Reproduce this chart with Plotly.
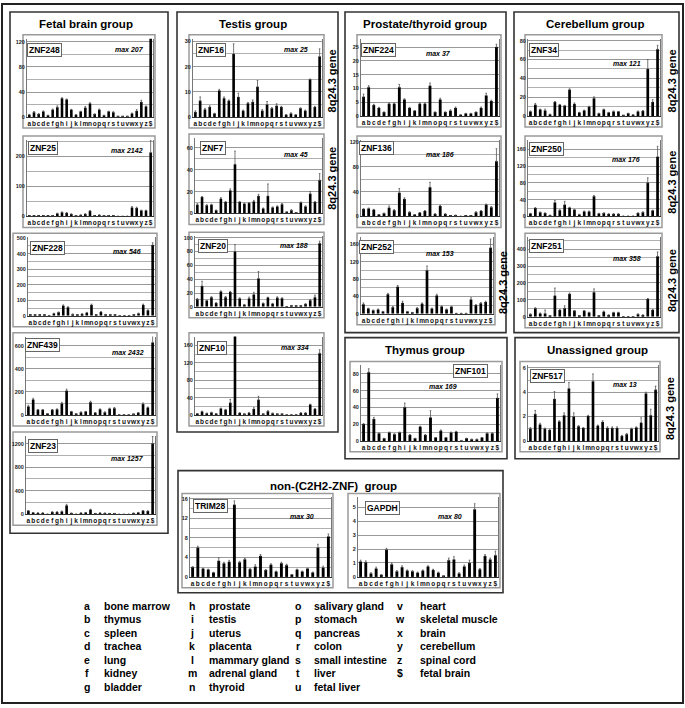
import plotly.graph_objects as go

W, H = 685, 708
categories = list("abcdefghijklmnopqrstuvwxyz") + ["$"]

# ---------------- data ----------------
znf248 = [4, 8, 5, 9, 3, 12, 16, 30, 28, 12, 4, 9, 15, 22, 5, 12, 3, 9, 8, 1, 1, 1, 6, 10, 24, 17, 130]
znf248_err = [0.5, 1, 0.5, 1, 0, 1, 2, 1, 1, 0.5, 0, 0.5, 2, 1, 0, 1, 0, 0.5, 0.5, 0, 0, 0, 0.5, 2, 3, 1, 5]
znf25 = [2, 2, 2, 2, 2, 3, 10, 14, 12, 8, 3, 5, 8, 18, 2, 5, 3, 3, 3, 1, 1, 1, 30, 28, 20, 20, 213]
znf25_err = [0, 0, 0, 0, 0, 0, 1, 1, 1, 0.5, 0, 0.5, 1, 2, 0, 0.5, 0, 0, 0, 0, 0, 0, 3, 3, 1, 1, 40]
znf228 = [3, 4, 4, 4, 2, 15, 22, 65, 55, 10, 5, 12, 20, 70, 5, 25, 8, 5, 5, 1, 1, 1, 5, 15, 70, 35, 455]
znf228_err = [0, 0, 0, 0, 0, 1, 2, 5, 3, 1, 0, 1, 2, 5, 0, 2, 1, 0, 0, 0, 0, 0, 1, 2, 5, 3, 15]
znf439 = [75, 135, 45, 45, 12, 45, 50, 100, 210, 30, 10, 25, 30, 110, 20, 50, 25, 55, 60, 3, 3, 3, 5, 20, 95, 65, 630]
znf439_err = [10, 10, 3, 3, 0, 3, 3, 10, 15, 2, 0, 2, 2, 10, 1, 3, 2, 5, 5, 0, 0, 0, 0, 2, 10, 5, 60]
znf23 = [60, 30, 25, 25, 5, 40, 40, 50, 150, 20, 5, 25, 30, 80, 15, 25, 20, 15, 15, 3, 3, 3, 20, 30, 60, 55, 1200]
znf23_err = [5, 2, 2, 2, 0, 3, 3, 5, 20, 2, 0, 2, 3, 8, 1, 2, 2, 1, 1, 0, 0, 0, 2, 3, 5, 5, 120]

znf16 = [2, 6.5, 3, 4, 1.5, 10.5, 7.5, 6.5, 25, 8, 2.5, 5.5, 6, 12, 2.5, 5, 3.5, 4.5, 4, 1, 1.5, 1, 3.5, 2.5, 15, 4, 24]
znf16_err = [0.5, 1.5, 0.5, 0.5, 0, 0.5, 0.5, 0.3, 4, 1.5, 0.3, 0.3, 0.8, 2.5, 0.5, 1.2, 0.3, 0.8, 0.3, 0, 0.2, 0, 0.2, 0.3, 0, 0.3, 3]
znf7 = [8, 15, 7.5, 8, 3, 13.5, 10.5, 21, 45, 10.5, 9, 9.5, 11, 16, 4.5, 16, 5.5, 6.5, 8.5, 1.5, 3, 0.8, 10, 6.5, 18, 10.5, 30.5]
znf7_err = [1, 0.5, 0.5, 0.5, 0, 1, 0.5, 1.5, 12, 0.5, 0.5, 0.5, 1, 1.5, 0.5, 11, 0.5, 0.5, 0.5, 0, 0.5, 0, 0.5, 0.5, 2, 0.5, 6]
znf20 = [11, 30, 9, 14, 5.5, 22, 14, 21.5, 80, 12, 3, 12, 18, 41, 5, 13.5, 4.5, 13, 12.5, 0.5, 2, 1.5, 1.5, 4, 9.5, 14, 92]
znf20_err = [1, 7, 0.5, 0.5, 0.5, 1, 1, 1, 10, 1, 0.5, 2, 3, 10, 0.5, 0.5, 0.5, 1.5, 0.5, 0, 0, 0, 0, 0.5, 1, 3, 3]
znf10 = [3, 8, 4, 6, 3, 15, 12, 28, 190, 5, 2, 5, 14, 35, 2, 9, 4, 2, 2, 0.5, 0.5, 1, 5, 5, 24, 14, 142]
znf10_err = [0.5, 1, 0.5, 0.5, 0, 1, 1, 8, 10, 0.5, 0, 1, 3, 8, 0, 1, 0.5, 0, 0, 0, 0, 0, 0.5, 0.5, 1, 1, 8]

znf224 = [7, 10.5, 4, 3, 1.5, 4.5, 4.5, 10.5, 6, 3, 2, 4.5, 4.5, 11, 1.5, 6, 1.5, 2, 3, 0.5, 1, 1, 1.5, 3, 7.5, 5.5, 25]
znf224_err = [1, 0.5, 0.3, 0.2, 0, 0.3, 0.3, 1, 0.3, 0.2, 0, 0.3, 0.3, 1, 0, 0.5, 0, 0.3, 0.3, 0, 0, 0, 0, 0.3, 0.8, 0.3, 1]
znf136 = [12, 13, 11, 3, 5, 14, 10, 38, 28, 7, 3, 6, 9, 47, 4, 17, 4, 1, 2, 0.5, 1, 1, 7, 9, 19, 15, 89]
znf136_err = [0.5, 0.5, 0.5, 0, 0.5, 3, 1, 7, 2, 0.5, 0, 0.5, 0.5, 8, 0.5, 1, 0.5, 0, 0, 0, 0, 0, 0.5, 0.5, 1, 1, 20]
znf252 = [22, 12, 8, 10, 5, 45, 15, 62, 25, 5, 3, 13, 23, 100, 12, 42, 17, 10, 16, 1, 1, 1, 33, 20, 24, 27, 152]
znf252_err = [3, 1, 0.5, 1, 0.5, 2, 2, 3, 4, 0.5, 0, 1, 2, 10, 1, 3, 1, 1, 1, 0, 0, 0, 4, 1, 2, 2, 20]

znf34 = [5, 12, 7, 6, 2, 15, 12, 11, 28, 13, 4, 6, 10, 19, 3, 7, 4, 5, 5, 0.5, 3, 1.5, 5, 5.5, 50, 15, 71]
znf34_err = [0.5, 1.5, 0.5, 1.5, 0, 0.5, 0.5, 0.5, 1, 1, 0, 0.5, 0.5, 1.5, 0, 0.5, 0, 0.5, 0, 0, 0, 0, 0.5, 0.5, 10, 2.5, 4]
znf250 = [7, 20, 10, 8, 3, 33, 15, 28, 21, 16, 5, 12, 12, 48, 7, 8, 6, 6, 6, 1, 1, 1, 8, 10, 80, 14, 142]
znf250_err = [0.5, 1, 0.5, 0.5, 0, 5, 1, 8, 1, 1, 0, 1, 1, 2, 0.5, 0.5, 0.5, 0.5, 0.5, 0, 0, 0, 0.5, 1, 12, 1, 25]
znf251 = [15, 50, 20, 20, 5, 125, 40, 50, 135, 35, 5, 35, 25, 145, 5, 30, 10, 25, 25, 1, 1, 1, 15, 10, 105, 40, 358]
znf251_err = [2, 3, 2, 20, 0, 45, 3, 15, 5, 2, 0, 2, 2, 20, 0, 3, 1, 2, 2, 0, 0, 0, 2, 1, 3, 3, 25]

znf101 = [20, 82, 26, 9, 3, 10, 8, 10, 40, 7, 3, 17, 7, 28, 4, 12, 4, 10, 11, 0.5, 3, 2, 2, 4, 9, 9, 51]
znf101_err = [0.5, 4, 2, 0.5, 0, 0.5, 0.5, 0.5, 5, 0.5, 0, 0.5, 0.5, 8, 0, 1, 0, 0.5, 0.5, 0, 0, 0, 0, 0, 0.5, 0.5, 5]
znf517 = [1, 2.2, 1.35, 1, 0.9, 3.45, 1.6, 2.1, 4.3, 2, 1.2, 1.05, 2.05, 4.9, 1.25, 1.55, 1.05, 1.05, 1.05, 0.4, 0.55, 1, 1.1, 1.5, 3.9, 2.1, 4.2]
znf517_err = [0.1, 0.3, 0.1, 0.05, 0.05, 0.6, 0.05, 0.2, 0.5, 0.3, 0.05, 0.05, 0.05, 0.6, 0.05, 0.1, 0.1, 0.1, 0.1, 0.05, 0.05, 0.05, 0.05, 0.4, 0.1, 0.5, 0.3]
trim28 = [2, 6, 1.7, 1.5, 0.9, 3.3, 2.8, 3.1, 14.8, 3, 3.6, 1.6, 2.1, 4.3, 1.4, 2.5, 1.1, 2.8, 2.4, 0.5, 1.5, 1.1, 1.7, 0.9, 6, 1.9, 8.3]
trim28_err = [0.1, 0.3, 0.1, 0.1, 0.05, 0.6, 0.2, 0.3, 0.8, 0.2, 0.2, 0.1, 0.4, 0.3, 0.1, 0.2, 0.1, 0.2, 0.2, 0, 0.1, 0.1, 0.1, 0.1, 0.7, 0.3, 0.5]
gapdh = [1.1, 1.05, 0.25, 0.6, 0.15, 1.95, 0.9, 0.4, 0.7, 0.45, 0.4, 0.3, 0.45, 0.75, 0.5, 0.3, 0.05, 1.2, 1.25, 0.25, 0.75, 1, 4.85, 0.55, 1.5, 1.25, 1.55]
gapdh_err = [0.1, 0.1, 0.05, 0.1, 0, 0.1, 0.1, 0.05, 0.1, 0.05, 0.05, 0.05, 0.05, 0.05, 0.05, 0.05, 0, 0.15, 0.2, 0.05, 0.1, 0.2, 0.4, 0.05, 0.1, 0.1, 0.3]

group_titles = ["Fetal brain group", "Testis group", "Prostate/thyroid group", "Cerebellum group",
                "Thymus group", "Unassigned group", "non-(C2H2-ZNF)  group"]

legend_codes = ["a", "b", "c", "d", "e", "f", "g",
                "h", "i", "j", "k", "l", "m", "n",
                "o", "p", "q", "r", "s", "t", "u",
                "v", "w", "x", "y", "z", "$"]
legend_names = ["bone marrow", "thymus", "spleen", "trachea", "lung", "kidney", "bladder",
                "prostate", "testis", "uterus", "placenta", "mammary gland", "adrenal gland", "thyroid",
                "salivary gland", "stomach", "pancreas", "colon", "small intestine", "liver", "fetal liver",
                "heart", "skeletal muscle", "brain", "cerebellum", "spinal cord", "fetal brain"]

# ---------------- layout (pixel geometry) ----------------
panels = [
    dict(name="ZNF248", v=znf248, e=znf248_err, mx="max 207", box=(23, 33, 155, 127), px=(27, 153), top=125, dt=40, mn=20, lab=(44, 48), mp=(129, 48)),
    dict(name="ZNF25", v=znf25, e=znf25_err, mx="max 2142", box=(23, 135, 155, 227), px=(27, 153), top=255, dt=100, mn=50, lab=(43, 147), mp=(127, 150)),
    dict(name="ZNF228", v=znf228, e=znf228_err, mx="max 546", box=(13, 233, 157, 327), px=(28, 155), top=505, dt=100, mn=50, lab=(47, 248), mp=(127, 251)),
    dict(name="ZNF439", v=znf439, e=znf439_err, mx="max 2432", box=(13, 333, 157, 427), px=(26, 155), top=680, dt=200, mn=100, lab=(42, 345), mp=(128, 353)),
    dict(name="ZNF23", v=znf23, e=znf23_err, mx="max 1257", box=(13, 433, 157, 527), px=(26, 155), top=1330, dt=400, mn=200, lab=(43, 447), mp=(128, 460)),
    dict(name="ZNF16", v=znf16, e=znf16_err, mx="max 25", box=(189, 33, 324, 127), px=(193, 322), top=31, dt=10, mn=5, lab=(211, 48), mp=(296, 48)),
    dict(name="ZNF7", v=znf7, e=znf7_err, mx="max 45", box=(189, 133, 324, 224), px=(195, 322), top=69, dt=20, mn=10, lab=(213, 147), mp=(296, 154)),
    dict(name="ZNF20", v=znf20, e=znf20_err, mx="max 188", box=(189, 232, 324, 318), px=(195, 322), top=102, dt=20, mn=10, lab=(213, 246), mp=(294, 245)),
    dict(name="ZNF10", v=znf10, e=znf10_err, mx="max 334", box=(189, 333, 324, 427), px=(195, 322), top=180, dt=40, mn=20, lab=(212, 348), mp=(295, 348)),
    dict(name="ZNF224", v=znf224, e=znf224_err, mx="max 37", box=(357, 33, 501, 126), px=(361, 499), top=28, dt=5, mn=None, lab=(379, 48), mp=(438, 52)),
    dict(name="ZNF136", v=znf136, e=znf136_err, mx="max 186", box=(357, 135, 501, 227), px=(361, 499), top=123, dt=40, mn=20, lab=(376, 147), mp=(440, 154)),
    dict(name="ZNF252", v=znf252, e=znf252_err, mx="max 153", box=(357, 233, 495, 325), px=(361, 493), top=176, dt=40, mn=20, lab=(376, 247), mp=(440, 253)),
    dict(name="ZNF34", v=znf34, e=znf34_err, mx="max 121", box=(525, 33, 662, 126), px=(528, 660), top=82, dt=20, mn=10, lab=(544, 48), mp=(627, 62)),
    dict(name="ZNF250", v=znf250, e=znf250_err, mx="max 176", box=(525, 135, 662, 227), px=(528, 660), top=182, dt=40, mn=20, lab=(546, 148), mp=(626, 159)),
    dict(name="ZNF251", v=znf251, e=znf251_err, mx="max 358", box=(525, 233, 662, 328), px=(528, 660), top=470, dt=100, mn=50, lab=(546, 246), mp=(627, 258)),
    dict(name="ZNF101", v=znf101, e=znf101_err, mx="max 169", box=(350, 362, 502, 453), px=(361, 500), top=90, dt=20, mn=10, lab=(470, 372), mp=(443, 387)),
    dict(name="ZNF517", v=znf517, e=znf517_err, mx="max 13", box=(520, 362, 660, 453), px=(528, 658), top=6.2, dt=2, mn=1, lab=(547, 377), mp=(625, 385)),
    dict(name="TRIM28", v=trim28, e=trim28_err, mx="max 30", box=(182, 495, 333, 590), px=(190, 331), top=16.3, dt=4, mn=2, lab=(210, 508), mp=(302, 518)),
    dict(name="GAPDH", v=gapdh, e=gapdh_err, mx="max 80", box=(348, 495, 500, 590), px=(358, 498), top=5.7, dt=1, mn=None, lab=(382, 510), mp=(450, 518)),
]

group_boxes = [(10, 10, 168, 535), (177, 10, 338, 433), (345, 10, 506, 333), (514, 10, 679, 333),
               (345, 338, 507, 460), (515, 338, 679, 460), (178, 472, 503, 595)]
group_title_pos = [(86, 22), (253, 22), (425, 22), (595, 22), (425, 350), (597, 350), (333, 487)]
gene_tag_pos = [(332, 80), (332, 178), (503, 283), (672, 80), (672, 182), (672, 281), (670, 410)]

FONT = "Liberation Sans, Arial, sans-serif"


def fx(x):
    return x / W


def fy(y):
    return 1 - y / H


fig = go.Figure()
layout = dict(width=W, height=H, margin=dict(l=0, r=0, t=0, b=0), paper_bgcolor="white",
              plot_bgcolor="white", showlegend=False, bargap=0.45, hovermode=False,
              font=dict(family=FONT, color="black"))
shapes = []
annotations = []

# outer frame
shapes.append(dict(type="rect", xref="paper", yref="paper", x0=fx(2), x1=fx(683), y0=fy(2), y1=fy(706),
                   line=dict(color="#222", width=2), layer="below"))
for (x0, y0, x1, y1) in group_boxes:
    shapes.append(dict(type="rect", xref="paper", yref="paper", x0=fx(x0), x1=fx(x1), y0=fy(y0), y1=fy(y1),
                       line=dict(color="#333", width=1.6), layer="below"))
for t, (x, y) in zip(group_titles, group_title_pos):
    annotations.append(dict(text=t, x=fx(x), y=fy(y), xref="paper", yref="paper", showarrow=False,
                            xanchor="center", yanchor="middle",
                            font=dict(size=11.5, family=FONT, weight="bold", color="black")))
for (x, y) in gene_tag_pos:
    annotations.append(dict(text="8q24.3 gene", x=fx(x), y=fy(y), xref="paper", yref="paper", showarrow=False,
                            xanchor="center", yanchor="middle", textangle=-90,
                            font=dict(size=11, family=FONT, weight="bold", color="black")))

for i, p in enumerate(panels, start=1):
    xa = "xaxis" if i == 1 else f"xaxis{i}"
    ya = "yaxis" if i == 1 else f"yaxis{i}"
    xr = "x" if i == 1 else f"x{i}"
    yr = "y" if i == 1 else f"y{i}"
    x0, y0, x1, y1 = p["box"]
    fig.add_trace(go.Bar(x=categories, y=p["v"], xaxis=xr, yaxis=yr, marker=dict(color="black", line=dict(width=0)),
                         error_y=dict(type="data", array=p["e"], arrayminus=[0] * len(p["e"]), symmetric=False,
                                      thickness=0.8, width=0.8, color="#555")))
    layout[xa] = dict(domain=[fx(p["px"][0]), fx(p["px"][1])], anchor=yr, type="category",
                      categoryorder="array", categoryarray=categories,
                      tickmode="array", tickvals=categories, ticktext=categories,
                      tickangle=0, ticks="",
                      showline=True, linecolor="#333", linewidth=1, showgrid=False, fixedrange=True,
                      tickfont=dict(size=6.5, family=FONT, weight="bold", color="#111"))
    ymin = dict(dtick=p["mn"], showgrid=True, gridcolor="#b0b0b0", gridwidth=0.6) if p["mn"] else dict(showgrid=False)
    layout[ya] = dict(domain=[fy(y1 - 11), fy(y0 + 4)], anchor=xr, range=[0, p["top"]], dtick=p["dt"], tick0=0,
                      showgrid=True, gridcolor="#999", gridwidth=0.7, zeroline=False, ticks="",
                      showline=True, linecolor="#777", linewidth=1, mirror=True, minor=ymin,
                      fixedrange=True, tickfont=dict(size=5.5, family=FONT, weight="bold", color="#222"))
    shapes.append(dict(type="rect", xref="paper", yref="paper", x0=fx(x0), x1=fx(x1), y0=fy(y0), y1=fy(y1),
                       line=dict(color="#9a9a9a", width=1.5), layer="below"))
    annotations.append(dict(text=p["name"], x=fx(p["lab"][0]), y=fy(p["lab"][1]), xref="paper", yref="paper",
                            showarrow=False, xanchor="center", yanchor="middle", bgcolor="white",
                            bordercolor="#666", borderwidth=1, borderpad=1,
                            font=dict(size=8.5, family=FONT, weight="bold", color="black")))
    annotations.append(dict(text=p["mx"], x=fx(p["mp"][0]), y=fy(p["mp"][1]), xref="paper", yref="paper",
                            showarrow=False, xanchor="center", yanchor="middle",
                            font=dict(size=7, family=FONT, weight="bold", style="italic", color="black")))

# tissue legend
letter_x = [87, 192, 298, 400]
name_x = [102, 207, 312, 418]
for k, (c, n) in enumerate(zip(legend_codes, legend_names)):
    col, row = k // 7, k % 7
    y = 608 + 13.6 * row
    annotations.append(dict(text=c, x=fx(letter_x[col]), y=fy(y), xref="paper", yref="paper", showarrow=False,
                            xanchor="center", yanchor="middle",
                            font=dict(size=10.5, family=FONT, weight="bold", color="black")))
    annotations.append(dict(text=n, x=fx(name_x[col]), y=fy(y), xref="paper", yref="paper", showarrow=False,
                            xanchor="left", yanchor="middle",
                            font=dict(size=10.5, family=FONT, weight="bold", color="black")))

layout["shapes"] = shapes
layout["annotations"] = annotations
fig.update_layout(**layout)
fig.write_html("out.html", config={"displayModeBar": False},
               post_script="document.body.style.margin='0';")
